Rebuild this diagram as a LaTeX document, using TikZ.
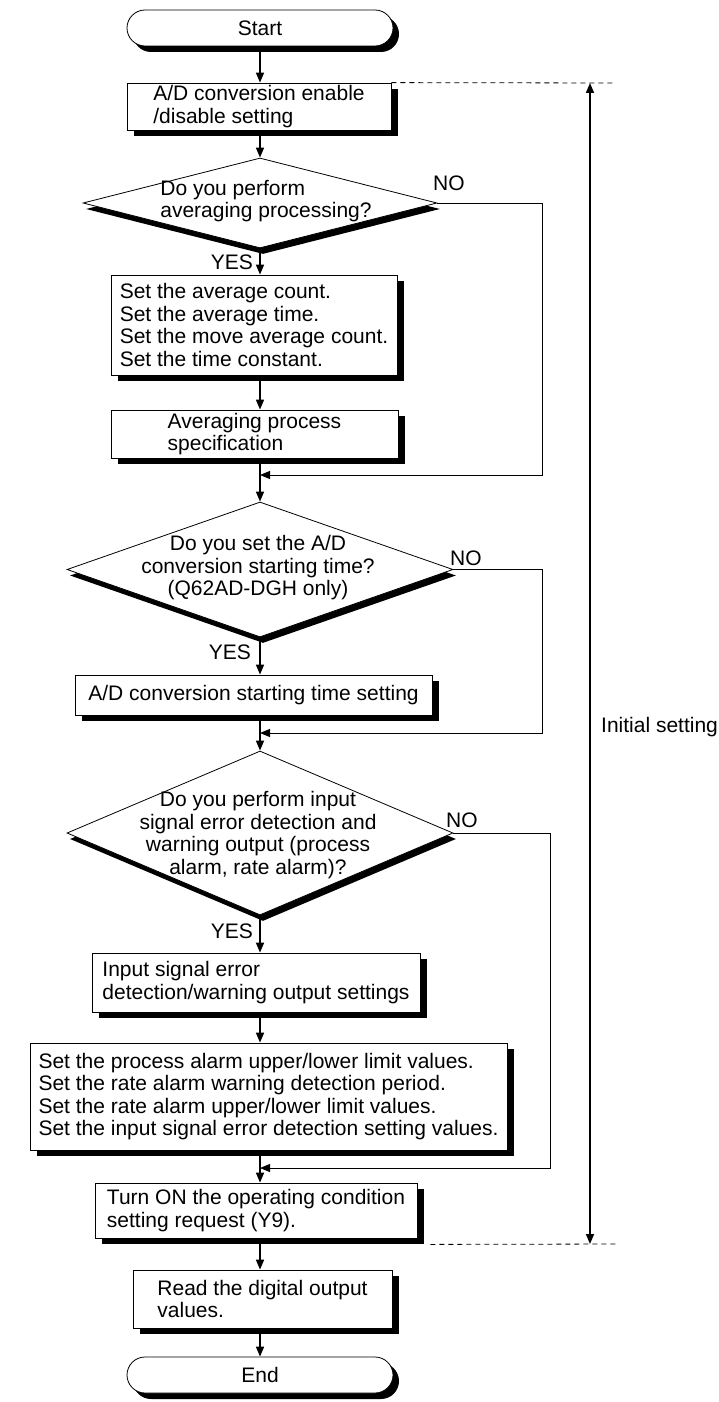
\documentclass[tikz,border=0pt]{standalone}
\usepackage{fontspec}
\setmainfont{Liberation Sans}
\usetikzlibrary{shapes.geometric,shadows,arrows.meta,calc}
\begin{document}
\begin{tikzpicture}[x=1pt,y=-1pt]
\tikzset{
 every node/.style={font=\fontsize{21}{22.5}\selectfont},
 box/.style={draw, line width=0.8pt, fill=white, inner sep=0pt, align=left,
   drop shadow={shadow xshift=7pt, shadow yshift=-6pt, opacity=1, fill=black}},
 dia/.style={diamond, draw, line width=0.8pt, fill=white, inner sep=0pt,
   drop shadow={shadow xshift=3pt, shadow yshift=-6pt, opacity=1, fill=black}},
 term/.style={rectangle, rounded corners=18pt, draw, line width=0.8pt, fill=white, inner sep=0pt,
   drop shadow={shadow xshift=6pt, shadow yshift=-6pt, opacity=1, fill=black}},
 mainarr/.style={line width=1.6pt, -{Triangle[length=10pt,width=8pt]}},
 joinarr/.style={line width=1pt, -{Triangle[length=10pt,width=8pt]}},
 botharr/.style={line width=1.6pt, {Triangle[length=10pt,width=8pt]}-{Triangle[length=10pt,width=8pt]}},
 dashline/.style={line width=0.8pt, dash pattern=on 5pt off 4pt},
 lbl/.style={inner sep=0pt},
}
\useasboundingbox (0,0) rectangle (719,1402);
\coordinate (m) at (260,0);

% nodes
\node[term, minimum width=266pt, minimum height=36pt] (start) at (260,28) {Start};
\node[box, minimum width=264pt, minimum height=47pt] (b1) at (259,106.5) {A/D conversion enable\\/disable setting};
\node[dia, minimum width=354pt, minimum height=90pt] (d1) at (260,203) {};
\node[lbl, align=left] (d1t) at (266,201) {Do you perform\\averaging processing?};
\node[box, minimum width=286pt, minimum height=100pt] (b2) at (254,325) {Set the average count.\\Set the average time.\\Set the move average count.\\Set the time constant.};
\node[box, minimum width=287pt, minimum height=48pt] (b3) at (254.5,434) {Averaging process\\specification};
\node[dia, minimum width=386pt, minimum height=135pt] (d2) at (260,569.5) {};
\node[lbl, align=center] (d2t) at (258,568) {Do you set the A/D\\conversion starting time?\\(Q62AD-DGH only)};
\node[box, minimum width=357pt, minimum height=40pt] (b4) at (253.5,695) {A/D conversion starting time setting};
\node[dia, minimum width=386pt, minimum height=164pt] (d3) at (260,833) {};
\node[lbl, align=center] (d3t) at (258,835) {Do you perform input\\signal error detection and\\warning output (process\\alarm, rate alarm)?};
\node[box, minimum width=328pt, minimum height=59pt] (b5) at (256,982.5) {Input signal error\\detection/warning output settings};
\node[box, minimum width=477pt, minimum height=107pt] (b6) at (268.5,1096.5) {Set the process alarm upper/lower limit values.\\Set the rate alarm warning detection period.\\Set the rate alarm upper/lower limit values.\\Set the input signal error detection setting values.};
\node[box, minimum width=322pt, minimum height=55pt] (b7) at (256,1210.5) {Turn ON the operating condition\\setting request (Y9).};
\node[box, minimum width=259pt, minimum height=58pt] (b8) at (262.5,1299) {Read the digital output\\values.};
\node[term, minimum width=266pt, minimum height=36pt] (end) at (260,1375) {End};

% labels
\node[lbl, anchor=west] (no1) at (433,183) {NO};
\node[lbl, anchor=east] (yes1) at (253,262) {YES};
\node[lbl, anchor=west] (no2) at (450,558) {NO};
\node[lbl, anchor=east] (yes2) at (251,652) {YES};
\node[lbl, anchor=west] (no3) at (446,820) {NO};
\node[lbl, anchor=east] (yes3) at (253,931) {YES};
\node[lbl, anchor=west] (init) at (601,727) {Initial setting};

% main flow
\draw[mainarr] (start.south) -- (m |- b1.north);
\draw[mainarr] (m |- b1.south) -- (d1.north);
\draw[mainarr] (d1.south) -- (m |- b2.north);
\draw[mainarr] (m |- b2.south) -- (m |- b3.north);
\draw[mainarr] (m |- b3.south) -- (d2.north);
\draw[mainarr] (d2.south) -- (m |- b4.north);
\draw[mainarr] (m |- b4.south) -- (d3.north);
\draw[mainarr] (d3.south) -- (m |- b5.north);
\draw[mainarr] (m |- b5.south) -- (m |- b6.north);
\draw[mainarr] (m |- b6.south) -- (m |- b7.north);
\draw[mainarr] (m |- b7.south) -- (m |- b8.north);
\draw[mainarr] (m |- b8.south) -- (end.north);

% NO branches
\coordinate (r1) at (542,475);
\coordinate (j1) at (m |- r1);
\draw[joinarr] (d1.east) -| (r1) -- (j1);
\coordinate (r2) at (542,733);
\coordinate (j2) at (m |- r2);
\draw[joinarr] (d2.east) -| (r2) -- (j2);
\coordinate (r3) at (550,1168);
\coordinate (j3) at (m |- r3);
\draw[joinarr] (d3.east) -| (r3) -- (j3);

% initial setting range
\coordinate (dt) at (613,83);
\coordinate (db1) at ($(b7.south east)+(13,6)$);
\coordinate (db2) at (618,1244);
\draw[dashline] (b1.north east) -- (dt);
\draw[dashline] (db1) -- (db2);
\coordinate (ia) at (590,83);
\coordinate (ib) at (590,1244);
\draw[botharr] (ia) -- (ib);
\end{tikzpicture}
\end{document}
